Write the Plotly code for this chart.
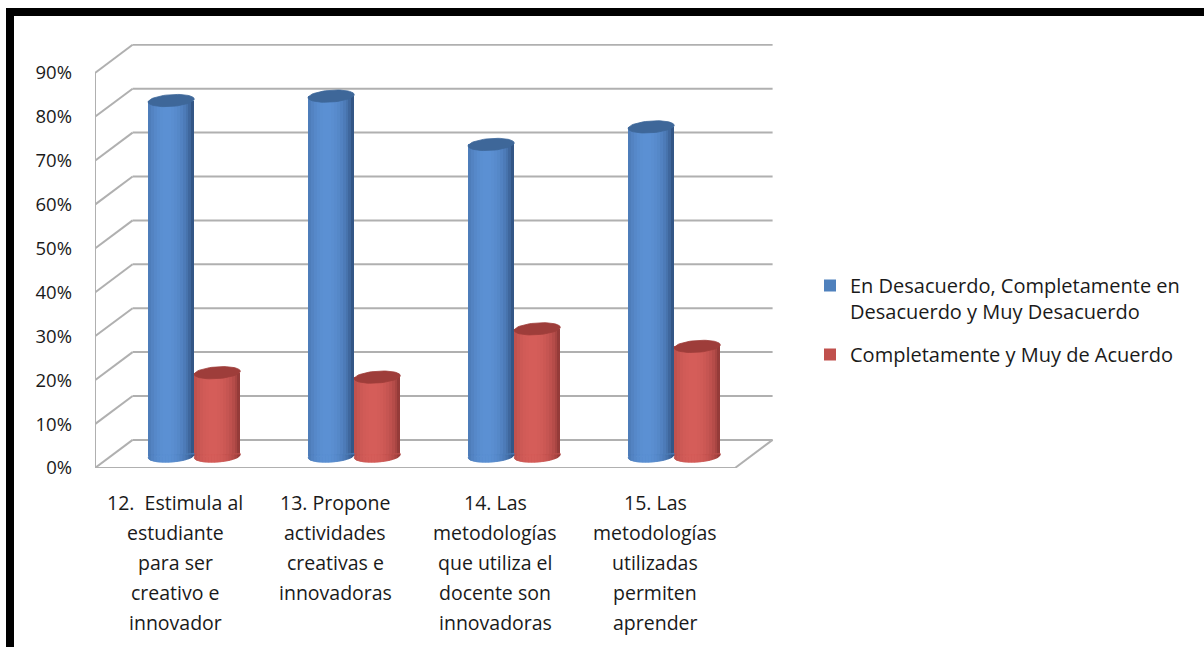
import plotly.graph_objects as go
import numpy as np

# ---------------- data ----------------
category_lines = [
    ["12.  Estimula al", "estudiante", "para ser", "creativo e", "innovador"],
    ["13. Propone", "actividades", "creativas e", "innovadoras"],
    ["14. Las", "metodologías", "que utiliza el", "docente son", "innovadoras"],
    ["15. Las", "metodologías", "utilizadas", "permiten", "aprender"],
]
series_names = [
    "En Desacuerdo, Completamente en<br>Desacuerdo y Muy Desacuerdo",
    "Completamente y Muy de Acuerdo",
]
desacuerdo = [81, 82, 71, 75]
acuerdo = [19, 18, 29, 25]
tick_values = [0, 10, 20, 30, 40, 50, 60, 70, 80, 90]
tick_labels = ["0%", "10%", "20%", "30%", "40%", "50%", "60%", "70%", "80%", "90%"]

# ---------------- layout geometry ----------------
W, H = 1204, 647
L, R, T, B = 95, 775, 44, 468          # plot area in pixels
XMAX = 4.25
YMAX = 96.58
BX, BY = 0.235, 6.4                    # depth offset of back wall (data units)
MX, MY = 0.12, 2.7                     # bars sit mid-depth
HALF_W = 0.144                         # cylinder radius in x units
ELL_B = 1.35                           # ellipse half height (y units)
TILT = 0.35

FONT = "Open Sans"
TXT = "#1a1a1a"

def paper_x(px):
    return (px - L) / (R - L)

def paper_y(py):
    return (B - py) / (B - T)

xs = [i + 0.5 for i in range(len(category_lines))]

fig = go.Figure()

palettes = [
    dict(base="#4f81bd", dark=(38, 66, 108), light=(92, 145, 212), cap="#3e6799"),
    dict(base="#c0504d", dark=(128, 48, 46), light=(214, 94, 90), cap="#9e3d3a"),
]
values_list = [desacuerdo, acuerdo]
NSTR = 16

def stripe_color(pal, u):
    u0 = -0.2
    p = 1 - ((u - u0) / (1 + abs(u0))) ** 2
    p = max(0.0, p) ** 0.6
    d, l = pal["dark"], pal["light"]
    c = [int(d[k] + (l[k] - d[k]) * p) for k in range(3)]
    return "rgb(%d,%d,%d)" % tuple(c)

for s, (vals, pal, name) in enumerate(zip(values_list, palettes, series_names)):
    left = MX - 2 * HALF_W if s == 0 else MX
    # main bar (legend carrier)
    fig.add_trace(go.Bar(
        x=xs, y=vals, base=MY, offset=left, width=2 * HALF_W,
        marker=dict(color=pal["base"], line=dict(width=0)),
        name=name, showlegend=True, legendgroup=str(s),
        hovertemplate="%{y}%<extra></extra>",
    ))
    # bottom half-ellipse background (whole)
    uu_full = np.linspace(1, -1, 40)
    for xc in xs:
        cx = xc + left + HALF_W
        fig.add_trace(go.Scatter(
            x=[cx - HALF_W, cx + HALF_W] + list(cx + uu_full * HALF_W),
            y=[MY - TILT, MY + TILT + 0.3] + list(MY + TILT * uu_full - ELL_B * np.sqrt(np.clip(1 - uu_full ** 2, 0, 1))),
            mode="lines", fill="toself", fillcolor=pal["base"],
            line=dict(width=0.5, color=pal["base"]), showlegend=False, hoverinfo="skip",
        ))
    sw = 2 * HALF_W / NSTR
    for j in range(NSTR):
        u = -1 + (j + 0.5) * 2 / NSTR
        col = stripe_color(pal, u)
        fig.add_trace(go.Bar(
            x=xs, y=vals, base=MY, offset=left + j * sw, width=sw * 1.05,
            marker=dict(color=col, line=dict(width=0)),
            showlegend=False, hoverinfo="skip",
        ))
        ua = -1 + j * 2 / NSTR
        ub = min(1.0, -1 + (j + 1.05) * 2 / NSTR)
        uu = np.linspace(ub, ua, 6)
        for xc in xs:
            cx = xc + left + HALF_W
            px_ = [cx + ua * HALF_W, cx + ub * HALF_W] + list(cx + uu * HALF_W)
            py_ = [MY + 0.3, MY + 0.3] + list(MY + TILT * uu - ELL_B * np.sqrt(np.clip(1 - uu ** 2, 0, 1)))
            fig.add_trace(go.Scatter(
                x=px_, y=py_, mode="lines", fill="toself", fillcolor=col,
                line=dict(width=0.6, color=col), showlegend=False, hoverinfo="skip",
            ))
    # top caps
    t = np.linspace(0, 2 * np.pi, 60)
    for xc, v in zip(xs, vals):
        cx = xc + left + HALF_W
        top = MY + v
        fig.add_trace(go.Scatter(
            x=cx + HALF_W * np.cos(t),
            y=top + ELL_B * np.sin(t) + TILT * np.cos(t),
            mode="lines", fill="toself", fillcolor=pal["cap"],
            line=dict(width=0.8, color=pal["cap"]), showlegend=False, hoverinfo="skip",
        ))

# ---------------- 3D frame (walls / grid) ----------------
GRID = "#b0b0b0"
shapes = []
for v in tick_values:
    shapes.append(dict(type="line", xref="x", yref="y", x0=0, y0=v, x1=BX, y1=v + BY,
                       line=dict(color=GRID, width=2), layer="below"))
    shapes.append(dict(type="line", xref="x", yref="y", x0=BX, y0=v + BY, x1=4 + BX, y1=v + BY,
                       line=dict(color=GRID, width=2), layer="below"))
shapes.append(dict(type="line", xref="x", yref="y", x0=0, y0=0, x1=0, y1=tick_values[-1],
                   line=dict(color=GRID, width=2), layer="below"))
shapes.append(dict(type="line", xref="x", yref="y", x0=0, y0=0, x1=4, y1=0,
                   line=dict(color=GRID, width=2), layer="below"))
shapes.append(dict(type="line", xref="x", yref="y", x0=4, y0=0, x1=4 + BX, y1=BY,
                   line=dict(color=GRID, width=2), layer="below"))

# black frame (top and left)
shapes.append(dict(type="rect", xref="paper", yref="paper",
                   x0=paper_x(6), x1=paper_x(W + 5), y0=paper_y(16), y1=paper_y(8),
                   fillcolor="black", line=dict(width=0)))
shapes.append(dict(type="rect", xref="paper", yref="paper",
                   x0=paper_x(6), x1=paper_x(14), y0=paper_y(H + 5), y1=paper_y(8),
                   fillcolor="black", line=dict(width=0)))

# ---------------- category labels ----------------
annotations = []
for xc, lines in zip(xs, category_lines):
    for k, line in enumerate(lines):
        annotations.append(dict(
            x=xc, y=0, xref="x", yref="y", text=line, showarrow=False,
            xanchor="center", yanchor="middle", yshift=-(34 + 30 * k),
            font=dict(family=FONT, size=19.5, color=TXT),
        ))

fig.update_layout(
    width=W, height=H,
    margin=dict(l=L, r=W - R, t=T, b=H - B, pad=0),
    paper_bgcolor="white", plot_bgcolor="white",
    barmode="overlay", bargap=0,
    shapes=shapes, annotations=annotations,
    showlegend=True,
    legend=dict(
        x=paper_x(810), y=paper_y(266), xanchor="left", yanchor="top",
        font=dict(family=FONT, size=20, color=TXT),
        valign="top", tracegroupgap=14, itemwidth=30,
        bgcolor="rgba(0,0,0,0)",
    ),
    xaxis=dict(range=[0, XMAX], showgrid=False, zeroline=False, showline=False,
               showticklabels=False, ticks="", fixedrange=True),
    yaxis=dict(range=[0, YMAX], showgrid=False, zeroline=False, showline=False,
               tickmode="array", tickvals=tick_values, ticktext=tick_labels,
               ticks="", ticklabelstandoff=22,
               tickfont=dict(family=FONT, size=18.5, color=TXT), fixedrange=True),
)

fig.write_html("out.html")
